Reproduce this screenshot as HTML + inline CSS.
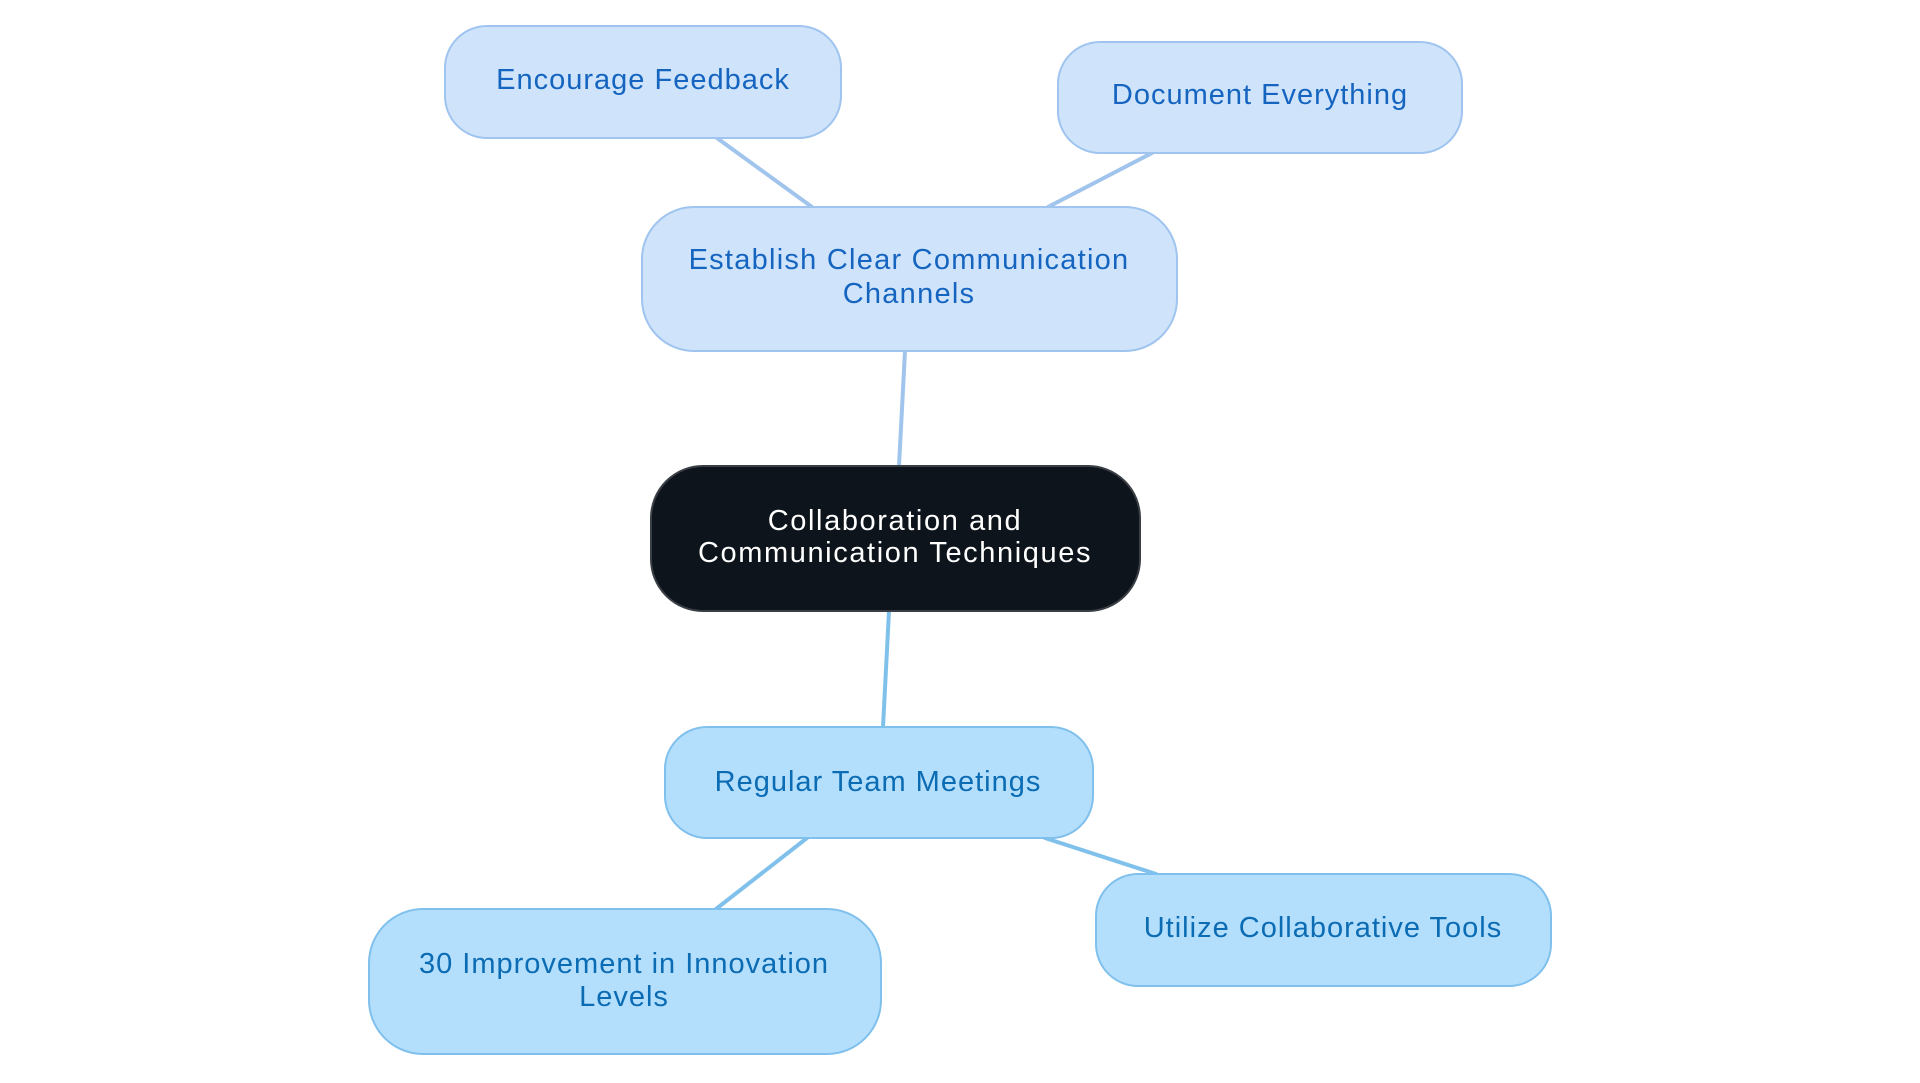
<!DOCTYPE html>
<html>
<head>
<meta charset="utf-8">
<style>
  html, body { margin: 0; padding: 0; background: #ffffff; }
  body { width: 1920px; height: 1083px; overflow: hidden; }
  svg { display: block; }
  text { font-family: "Liberation Sans", "DejaVu Sans", sans-serif; font-size: 29px; letter-spacing: 1.0px; }
  .t1 { fill: #1565c0; }
  .t2 { fill: #0b6bb3; }
  .t0 { fill: #ffffff; letter-spacing: 1.6px; }
  .est { letter-spacing: 1.25px; }
</style>
</head>
<body>
<svg width="1920" height="1083" viewBox="0 0 1920 1083" xmlns="http://www.w3.org/2000/svg">
  <!-- edges -->
  <g stroke-linecap="round" fill="none">
    <line x1="717" y1="138" x2="812" y2="207" stroke="#a0c4ec" stroke-width="4"/>
    <line x1="1152" y1="153" x2="1048" y2="207" stroke="#a0c4ec" stroke-width="4"/>
    <line x1="905" y1="351" x2="899" y2="466" stroke="#a0c4ec" stroke-width="4"/>
    <line x1="889" y1="611" x2="883" y2="727" stroke="#80c1eb" stroke-width="4"/>
    <line x1="807" y1="838" x2="716" y2="909" stroke="#80c1eb" stroke-width="4"/>
    <line x1="1045" y1="838" x2="1156" y2="874" stroke="#80c1eb" stroke-width="4"/>
  </g>

  <!-- top-level child nodes (light lavender blue) -->
  <rect x="445" y="26" width="396" height="112" rx="42" ry="42" fill="#cfe4fb" stroke="#9fc4ef" stroke-width="2"/>
  <text class="t1" x="643" y="89" text-anchor="middle">Encourage Feedback</text>

  <rect x="1058" y="42" width="404" height="111" rx="42" ry="42" fill="#cfe4fb" stroke="#9fc4ef" stroke-width="2"/>
  <text class="t1" x="1260" y="104" text-anchor="middle">Document Everything</text>

  <rect x="642" y="207" width="535" height="144" rx="52" ry="52" fill="#cfe4fb" stroke="#9fc4ef" stroke-width="2"/>
  <text class="t1 est" x="909" y="269" text-anchor="middle">Establish Clear Communication</text>
  <text class="t1 est" x="909" y="303" text-anchor="middle">Channels</text>

  <!-- central node -->
  <rect x="651" y="466" width="489" height="145" rx="52" ry="52" fill="#0d141b" stroke="#3a3f45" stroke-width="2"/>
  <text class="t0" x="895" y="530" text-anchor="middle">Collaboration and</text>
  <text class="t0" x="895" y="562" text-anchor="middle">Communication Techniques</text>

  <!-- bottom nodes (sky blue) -->
  <rect x="665" y="727" width="428" height="111" rx="42" ry="42" fill="#b3dffd" stroke="#80c0ec" stroke-width="2"/>
  <text class="t2" x="878" y="791" text-anchor="middle">Regular Team Meetings</text>

  <rect x="369" y="909" width="512" height="145" rx="54" ry="54" fill="#b3dffd" stroke="#80c0ec" stroke-width="2"/>
  <text class="t2" x="624" y="973" text-anchor="middle">30 Improvement in Innovation</text>
  <text class="t2" x="624" y="1006" text-anchor="middle">Levels</text>

  <rect x="1096" y="874" width="455" height="112" rx="42" ry="42" fill="#b3dffd" stroke="#80c0ec" stroke-width="2"/>
  <text class="t2" x="1323" y="937" text-anchor="middle">Utilize Collaborative Tools</text>
</svg>
</body>
</html>
